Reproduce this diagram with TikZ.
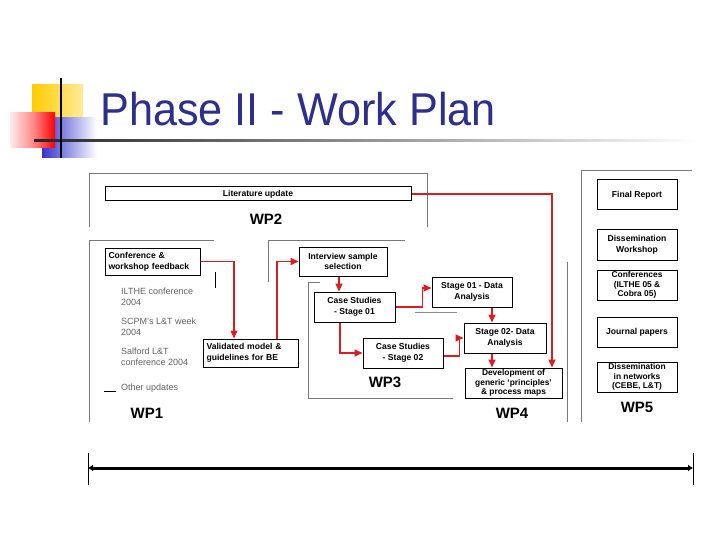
\documentclass[tikz,border=0pt]{standalone}
\usepackage{fontspec}
\usepackage{graphicx}
\setmainfont{Liberation Sans}
\usetikzlibrary{arrows.meta,calc}
\definecolor{titleblue}{RGB}{46,46,140}
\definecolor{arrred}{RGB}{214,30,36}
\definecolor{frameg}{RGB}{120,120,120}
\definecolor{yel}{RGB}{255,204,0}
\definecolor{blu}{RGB}{51,51,204}
\begin{document}
\begin{tikzpicture}[x=1pt,y=-1pt,
  box/.style={draw, line width=1pt, inner sep=1pt, align=center,
    font=\bfseries\fontsize{8.6}{10.6}\selectfont},
  tbox/.style={box, inner sep=0pt, font=\bfseries\fontsize{8.4}{9.6}\selectfont},
  lbox/.style={box, align=left},
  wp/.style={font=\bfseries\fontsize{15}{17}\selectfont},
  frame/.style={draw=frameg, line width=0.8pt},
  rarr/.style={draw=arrred, line width=1.5pt, -{Triangle[width=7pt,length=8pt]}},
  gtext/.style={anchor=north west, inner sep=0pt, align=left, text=black!62,
    font=\fontsize{9}{10.5}\selectfont}]
\useasboundingbox (0,0) rectangle (720,540);
\fill[white] (0,0) rectangle (720,540);
% decoration
\shade[left color=yel, right color=yel!40] (32,85) rectangle (83,135);
\shade[left color=blu, right color=white] (42,118) rectangle (97,158);
\shade[left color=red!8, right color=red, middle color=red!45] (10,113) rectangle (55,148);
\shade[left color=black!85, right color=white] (34,140) rectangle (700,142);
\draw[line width=2pt] (61,78) -- (61,158);
\node[anchor=base west, inner sep=0pt, text=titleblue, font=\fontsize{46}{50}\selectfont]
  (title) at (100,126) {\scalebox{0.94}[1]{Phase II - Work Plan}};
% frames
\draw[frame] (89,227) -- (89,173) -- (427,173) -- (427,227);
\draw[frame] (89,422) -- (89,240) -- (214,240);
\draw[line width=0.8pt] (215,272) -- (215,288);
\draw[frame] (268,282) -- (268,240) -- (405,240);
\draw[frame] (320,282) -- (308,282) -- (308,398) -- (453,398);
\draw[draw=black!45, line width=0.8pt] (415,312) -- (457,312);
\draw[frame] (567,262) -- (567,422);
\draw[frame] (581,422) -- (581,170) -- (692,170);
% boxes
\node[box, minimum width=306pt, minimum height=14pt] (lit) at (258,194) {Literature update};
\node[lbox, minimum width=95pt, minimum height=27pt, text width=88pt] (conf) at (152.5,261.5) {Conference \&\\workshop feedback};
\node[lbox, minimum width=95pt, minimum height=28pt, text width=88pt] (valid) at (250.5,353) {Validated model \&\\guidelines for BE};
\node[box, minimum width=88pt, minimum height=29pt] (interview) at (343,261.5) {Interview sample\\selection};
\node[box, minimum width=81pt, minimum height=30pt] (cs1) at (354.5,307) {Case Studies\\- Stage 01};
\node[box, minimum width=80pt, minimum height=30pt] (s1) at (472,292) {Stage 01 - Data\\Analysis};
\node[box, minimum width=80pt, minimum height=30pt] (cs2) at (403,353) {Case Studies\\- Stage 02};
\node[box, minimum width=82pt, minimum height=30pt] (s2) at (505,338) {Stage 02- Data\\Analysis};
\node[tbox, minimum width=97pt, minimum height=30pt] (dev) at (513.5,383) {Development of\\generic `principles'\\\& process maps};
\node[box, minimum width=80pt, minimum height=30pt] (final) at (637,195) {Final Report};
\node[box, minimum width=80pt, minimum height=30pt] (dw) at (637,245) {Dissemination\\Workshop};
\node[tbox, minimum width=80pt, minimum height=30pt] (c5) at (637,285) {Conferences\\(ILTHE 05 \&\\Cobra 05)};
\node[box, minimum width=80pt, minimum height=30pt] (jp) at (637,332) {Journal papers};
\node[tbox, minimum width=80pt, minimum height=30pt] (dn) at (637,377) {Dissemination\\in networks\\(CEBE, L\&T)};
% WP labels
\node[wp] (wp2) at (266,219) {WP2};
\node[wp] (wp1) at (147,413) {WP1};
\node[wp] (wp3) at (385,382) {WP3};
\node[wp] (wp4) at (512,413) {WP4};
\node[wp] (wp5) at (637,407) {WP5};
% grey text list
\node[gtext] (t1) at (121,288) {ILTHE conference\\2004};
\node[gtext] (t2) at (121,318) {SCPM's L\&T week\\2004};
\node[gtext] (t3) at (121,348) {Salford L\&T\\conference 2004};
\node[gtext] (t4) at (121,384) {Other updates};
\draw[line width=0.8pt] (104,391) -- (116,391);
% red arrows
\draw[rarr] (lit.east) -| ([xshift=38.5pt]dev.north);
\draw[rarr] (conf.east) -| ([xshift=-16.5pt]valid.north);
\draw[rarr] ([xshift=26.5pt]valid.north) |- (interview.west);
\draw[rarr] ([xshift=-4pt]interview.south) -- ([xshift=-4pt]interview.south |- cs1.north);
\draw[rarr] (cs1.east) -- ++(27,0) |- ([yshift=4pt]s1.west);
\draw[rarr] ([xshift=-14.5pt]cs1.south) |- (cs2.west);
\draw[rarr] ([yshift=-3pt]cs2.east) -- ++(16,0) |- (s2.west);
\draw[rarr] ([xshift=20pt]s1.south) -- ([xshift=20pt]s1.south |- s2.north);
\draw[rarr] ([xshift=-13pt]s2.south) -- ([xshift=-13pt]s2.south |- dev.north);
% timeline
\coordinate (tl) at (88,468);
\coordinate (tr) at (693,468);
\draw[line width=0.8pt] (88,453) -- (88,485);
\draw[line width=0.8pt] (693,453) -- (693,485);
\draw[line width=3pt, {Latex[length=5pt,width=7pt]}-{Latex[length=5pt,width=7pt]}] (tl) -- (tr);
\end{tikzpicture}
\end{document}
